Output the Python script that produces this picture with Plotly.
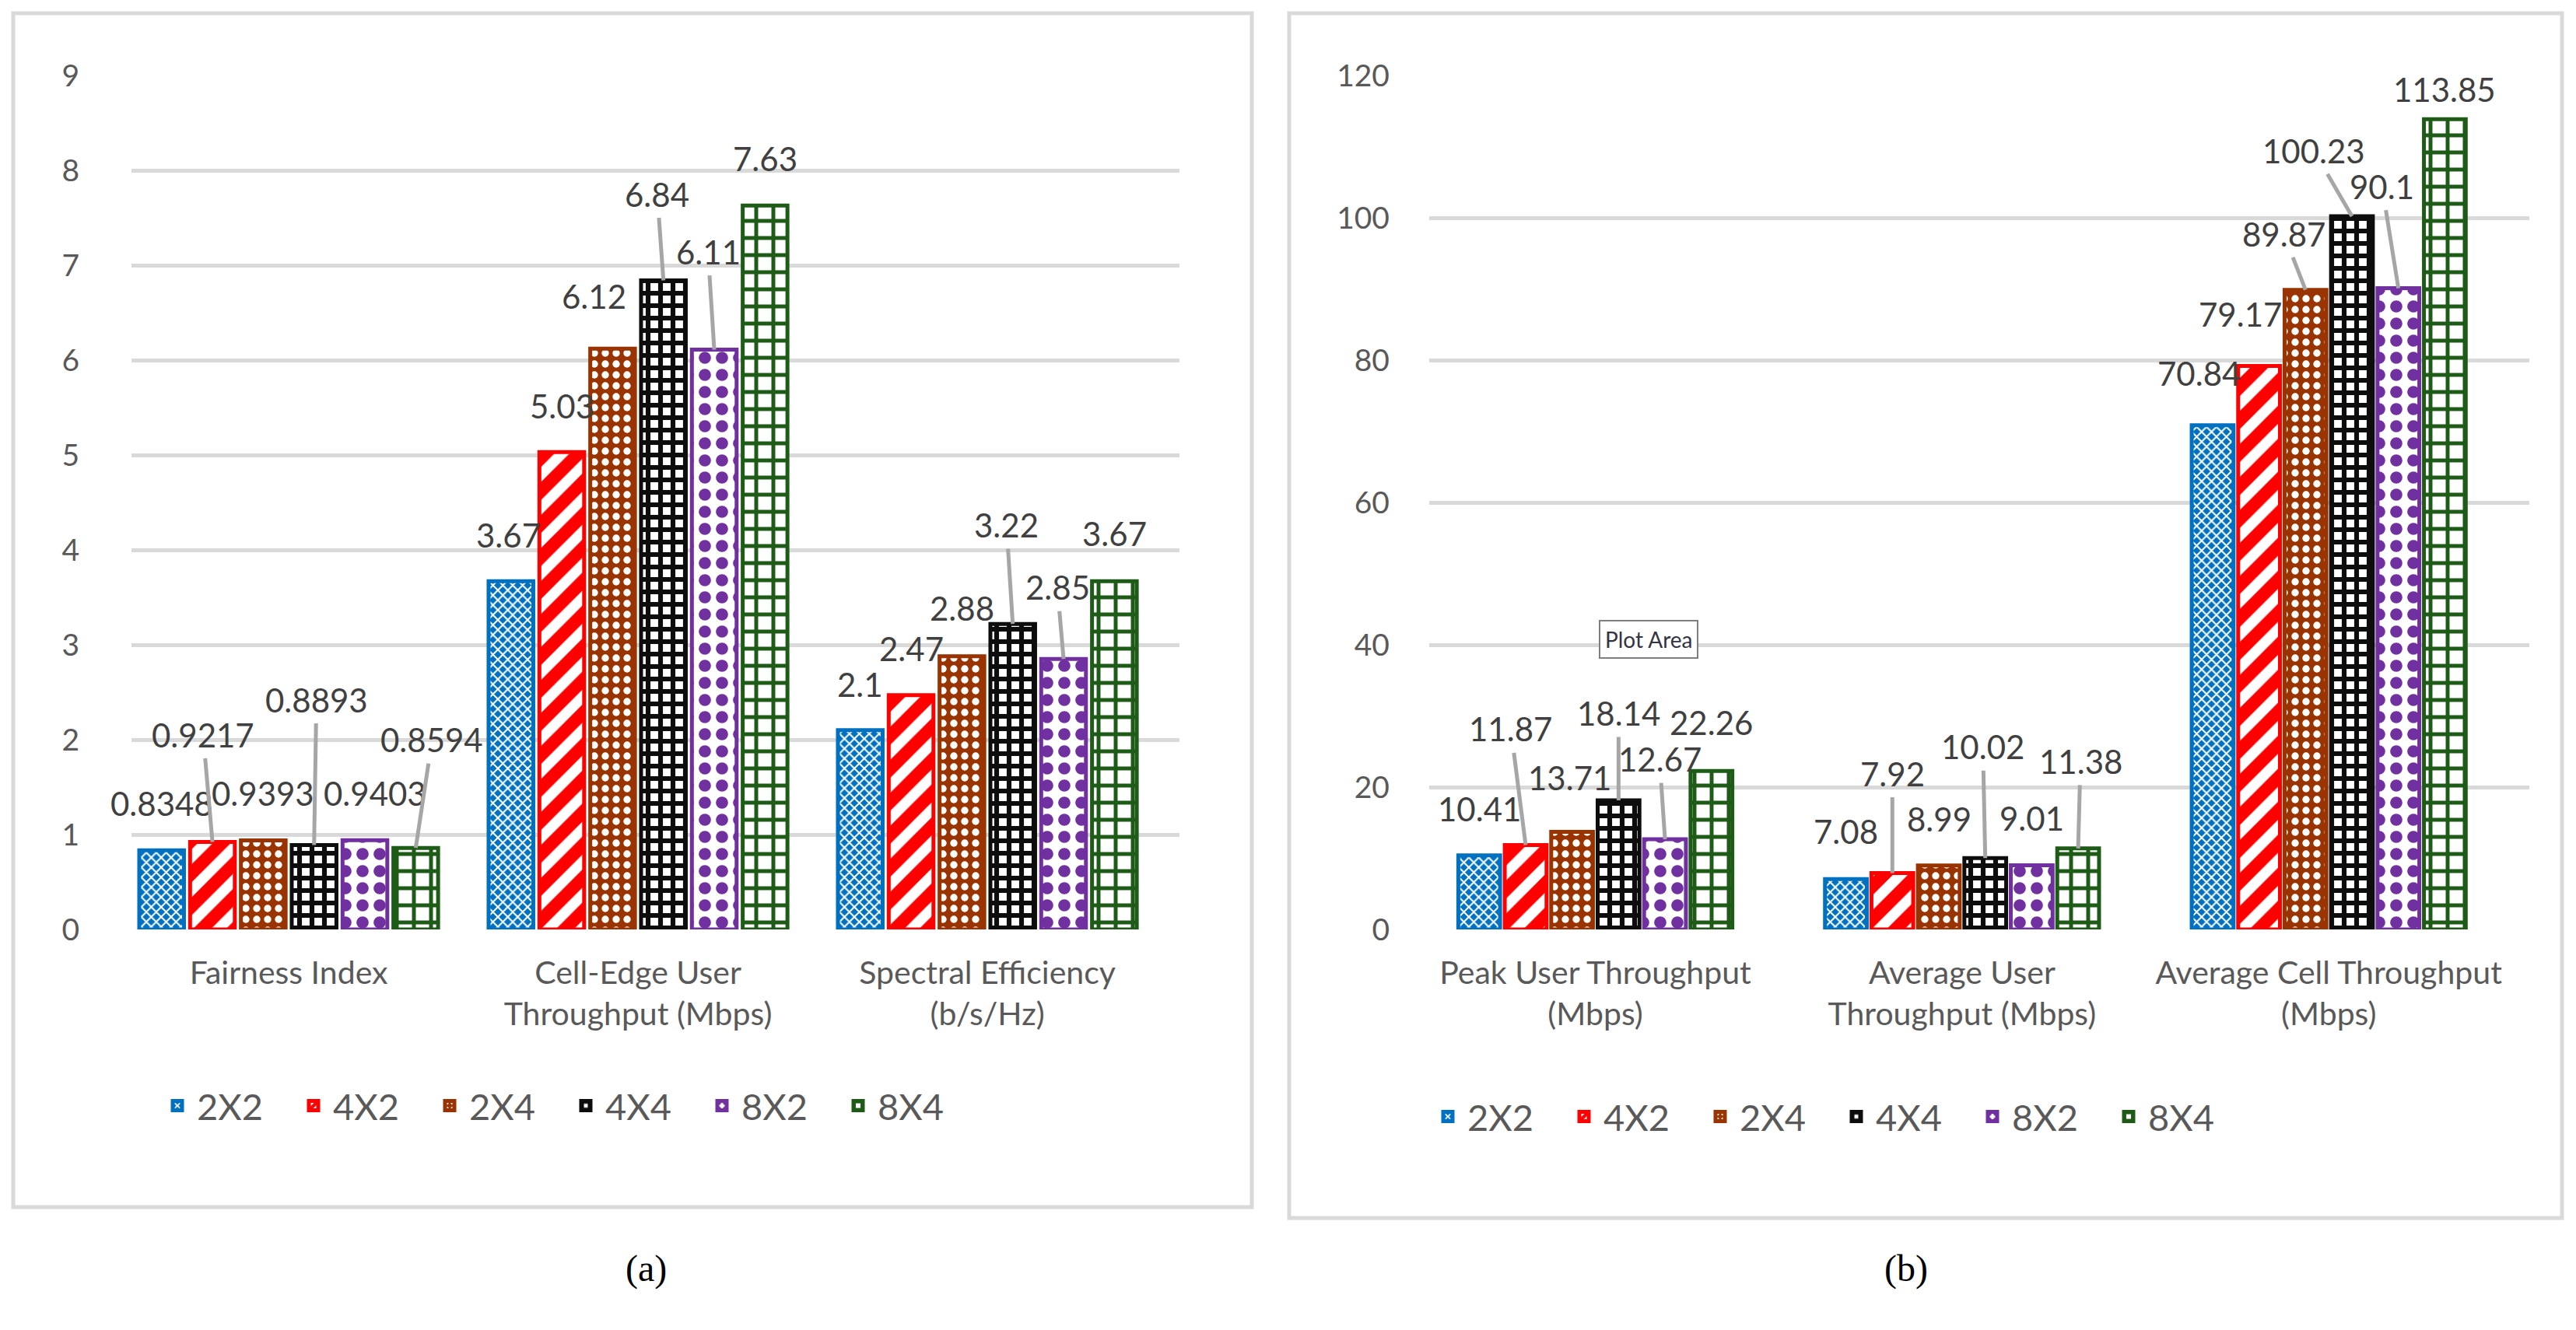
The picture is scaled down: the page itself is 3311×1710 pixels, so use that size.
import plotly.graph_objects as go

# ---------------- data ----------------
SERIES = ["2X2", "4X2", "2X4", "4X4", "8X2", "8X4"]
LEFT_CATS = ["Fairness Index", "Cell-Edge User<br>Throughput (Mbps)", "Spectral Efficiency<br>(b/s/Hz)"]
RIGHT_CATS = ["Peak User Throughput<br>(Mbps)", "Average User<br>Throughput (Mbps)", "Average Cell Throughput<br>(Mbps)"]

left_2x2 = [0.8348, 3.67, 2.1]
left_4x2 = [0.9217, 5.03, 2.47]
left_2x4 = [0.9393, 6.12, 2.88]
left_4x4 = [0.8893, 6.84, 3.22]
left_8x2 = [0.9403, 6.11, 2.85]
left_8x4 = [0.8594, 7.63, 3.67]

right_2x2 = [10.41, 7.08, 70.84]
right_4x2 = [11.87, 7.92, 79.17]
right_2x4 = [13.71, 8.99, 89.87]
right_4x4 = [18.14, 10.02, 100.23]
right_8x2 = [12.67, 9.01, 90.1]
right_8x4 = [22.26, 11.38, 113.85]

LEFT_TICKS = [0, 1, 2, 3, 4, 5, 6, 7, 8, 9]
RIGHT_TICKS = [0, 20, 40, 60, 80, 100, 120]
CAPTIONS = ["(a)", "(b)"]

LEFT_VALUES = [left_2x2, left_4x2, left_2x4, left_4x4, left_8x2, left_8x4]
RIGHT_VALUES = [right_2x2, right_4x2, right_2x4, right_4x4, right_8x2, right_8x4]

# ---------------- style ----------------
W, H = 3311, 1710
PAGE_MARGIN = 8  # default body margin of the html page
COLORS = ["#0070C0", "#FF0000", "#993300", "#0D0D0D", "#7030A0", "#1E5B16"]
PATTERNS = [
    dict(shape="x", fgcolor="white", bgcolor="#0070C0", size=9, solidity=0.4, fgopacity=1),
    dict(shape="/", fgcolor="#FF0000", bgcolor="white", size=30, solidity=0.55, fgopacity=1),
    dict(shape=".", fgcolor="white", bgcolor="#993300", size=14, solidity=0.35, fgopacity=1),
    dict(shape="+", fgcolor="#0D0D0D", bgcolor="white", size=16, solidity=0.62, fgopacity=1),
    dict(shape=".", fgcolor="#7030A0", bgcolor="white", size=22, solidity=0.4, fgopacity=1),
    dict(shape="+", fgcolor="#1E5B16", bgcolor="white", size=22, solidity=0.4, fgopacity=1),
]
FONT = "Lato, sans-serif"
TXT = "#595959"
LBL = "#404040"
GRID = "#D9D9D9"
LEADER = "#A6A6A6"

# label offsets per panel: [category][series] -> (dx px, dy px above bar top, leader)
LEFT_LABELS = [
    [(0, 60, 0), (-12, 138, 1), (0, 60, 0), (3, 187, 1), (13, 60, 0), (21, 139, 1)],
    [(-3, 59, 0), (0, 59, 0), (-24, 67, 0), (-8, 111, 1), (-8, 126, 1), (0, 60, 0)],
    [(0, 59, 0), (0, 60, 0), (0, 62, 0), (-8, 127, 1), (-8, 92, 1), (0, 61, 0)],
]
RIGHT_LABELS = [
    [(0, 60, 0), (-19, 149, 1), (-3, 70, 0), (0, 112, 1), (-7, 103, 1), (0, 62, 0)],
    [(0, 61, 0), (0, 128, 1), (0, 60, 0), (-3, 143, 1), (0, 61, 0), (3, 112, 1)],
    [(-17, 67, 0), (-24, 67, 0), (-28, 72, 1), (-49, 84, 1), (-21, 131, 1), (0, 38, 0)],
]

def px_x(x):
    return (x - PAGE_MARGIN) / W

def px_y(y):
    return 1 - (y - PAGE_MARGIN) / H

PANELS = [
    dict(cats=LEFT_CATS, values=LEFT_VALUES, ticks=LEFT_TICKS, rng=[0, 9],
         xd=[px_x(169), px_x(1516)], shift=0.05, group=0.873, fill=0.88, xa="x", ya="y",
         legend="legend", labels=LEFT_LABELS, standoff=66),
    dict(cats=RIGHT_CATS, values=RIGHT_VALUES, ticks=RIGHT_TICKS, rng=[0, 120],
         xd=[px_x(1837), px_x(3251)], shift=0.047, group=0.76, fill=0.9, xa="x2", ya="y2",
         legend="legend2", labels=RIGHT_LABELS, standoff=50),
]
YD = [px_y(1195), px_y(97)]

fig = go.Figure()
annotations = []

for p in PANELS:
    n = len(SERIES)
    slot = p["group"] / n
    bw = slot * p["fill"]
    xs = list(range(len(p["cats"])))
    for j, name in enumerate(SERIES):
        off = -p["group"] / 2 + j * slot + (slot - bw) / 2
        fig.add_trace(go.Bar(
            x=xs, y=p["values"][j], name=name,
            width=bw, offset=off,
            marker=dict(color=COLORS[j], line=dict(color=COLORS[j], width=5),
                        pattern=PATTERNS[j]),
            xaxis=p["xa"], yaxis=p["ya"], legend=p["legend"],
            hoverinfo="skip",
        ))
        for i, v in enumerate(p["values"][j]):
            cx = i + off + bw / 2
            dx, dy, lead = p["labels"][i][j]
            common = dict(text=str(v), xref=p["xa"], yref=p["ya"],
                          font=dict(family=FONT, size=42, color=LBL))
            if lead:
                annotations.append(dict(x=cx, y=v, ax=dx, ay=-dy, showarrow=True,
                                        arrowhead=0, arrowwidth=5, arrowcolor=LEADER,
                                        standoff=0, startstandoff=4, **common))
            else:
                annotations.append(dict(x=cx, y=v, xshift=dx, yshift=dy,
                                        showarrow=False, yanchor="middle", **common))

axis_common = dict(showline=False, zeroline=False, automargin=False)
layout_axes = {}
for k, p in enumerate(PANELS):
    sfx = "" if k == 0 else str(k + 1)
    layout_axes["xaxis" + sfx] = dict(
        domain=p["xd"], anchor="y" + sfx,
        range=[-0.5 + p["shift"], len(p["cats"]) - 0.5 + p["shift"]],
        tickvals=list(range(len(p["cats"]))), ticktext=p["cats"], showgrid=False,
        tickfont=dict(family=FONT, size=41, color=TXT), ticks="",
        ticklabelstandoff=28, **axis_common)
    layout_axes["yaxis" + sfx] = dict(
        domain=YD, anchor="x" + sfx, range=p["rng"], tickvals=p["ticks"],
        gridcolor=GRID, gridwidth=5, ticks="",
        tickfont=dict(family=FONT, size=39, color=TXT),
        ticklabelstandoff=p["standoff"], **axis_common)
fig.update_layout(**layout_axes)

for lg, x0, y0 in (("legend", 203, 1422), ("legend2", 1836, 1436)):
    fig.update_layout({lg: dict(orientation="h", x=px_x(x0), y=px_y(y0),
                                xanchor="left", yanchor="middle",
                                font=dict(family=FONT, size=47, color=TXT),
                                entrywidth=120, entrywidthmode="pixels",
                                itemwidth=40, bgcolor="rgba(0,0,0,0)",
                                traceorder="normal")})

shapes = [
    dict(type="rect", xref="paper", yref="paper", x0=px_x(17), x1=px_x(1609),
         y0=px_y(1552), y1=px_y(17), line=dict(color=GRID, width=5), layer="below"),
    dict(type="rect", xref="paper", yref="paper", x0=px_x(1657), x1=px_x(3293),
         y0=px_y(1566), y1=px_y(17), line=dict(color=GRID, width=5), layer="below"),
]

for cap, cx in zip(CAPTIONS, (802, 2480)):
    annotations.append(dict(text=cap, xref="paper", yref="paper", x=px_x(cx), y=px_y(1660),
                            showarrow=False, font=dict(family="Liberation Serif, serif",
                                                       size=48, color="black")))

annotations.append(dict(text="Plot Area", xref="paper", yref="paper",
                        x=px_x(2119), y=px_y(822), showarrow=False,
                        font=dict(family=FONT, size=28, color="#333344"),
                        bordercolor="#7F7F7F", borderwidth=2, borderpad=6,
                        bgcolor="white"))

fig.update_layout(
    width=W, height=H, margin=dict(l=0, r=0, t=0, b=0, autoexpand=False),
    paper_bgcolor="white", plot_bgcolor="white",
    barmode="overlay", showlegend=True,
    annotations=annotations, shapes=shapes,
)

fig.write_html("out.html")
